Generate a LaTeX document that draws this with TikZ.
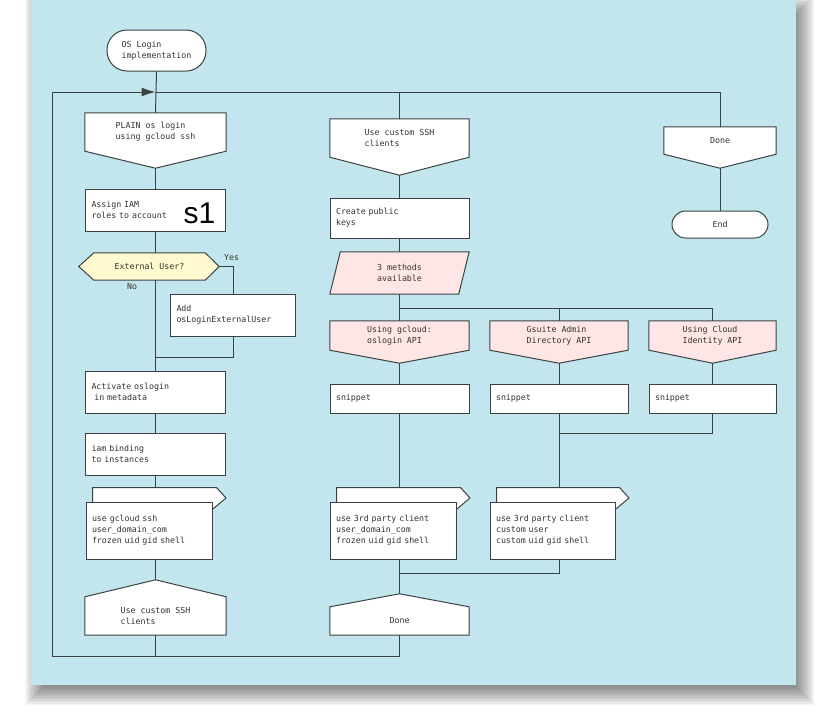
\documentclass[tikz,border=0pt]{standalone}
\usepackage{fontspec}
\newfontfamily\flowfont{DejaVu Sans Mono}
\newfontfamily\sonefont{Liberation Sans}
\usetikzlibrary{arrows.meta, calc}
\definecolor{panelblue}{HTML}{C3E6EE}
\definecolor{flowline}{HTML}{3A4242}
\definecolor{flowtext}{HTML}{35332E}
\definecolor{headpink}{HTML}{FFE6E6}
\definecolor{questionyellow}{HTML}{FFF9CF}
\pgfdeclarelayer{panel}
\pgfdeclarelayer{shapes}
\pgfsetlayers{panel,shapes,main}

\begin{document}
\begin{tikzpicture}[
        x=1pt, y=-1pt,
        flowfont/.style={font=\flowfont\fontsize{8.3}{10.9}\selectfont, text=flowtext},
        link/.style={draw=flowline, line width=1pt},
        outline/.style={draw=flowline, line width=1pt, fill=white},
        actionbox/.style={outline, flowfont, inner xsep=6pt, inner ysep=0pt, align=left},
        terminal/.style={outline, flowfont, inner sep=0pt, align=left},
        headbody/.style={flowfont, inner sep=0pt, align=left},
        looparrow/.style={link, -{Latex[length=14pt, width=9pt]}}
    ]
        \useasboundingbox (0,0) rectangle (827,724);
        \begin{pgfonlayer}{panel}
            \foreach \blur in {-6,-4.5,...,12}
                \fill[black, opacity=0.045] ({37-(\blur)},{8-(\blur)}) rectangle ({802+\blur},{693+\blur});
            \fill[panelblue] (31,0) rectangle (796,685);
        \end{pgfonlayer}

        % left column
        \node[terminal, minimum width=99pt, minimum height=41pt, rounded corners=20pt] (start) at (156.5,50.5) {OS Login\\implementation};
        \node[headbody, minimum width=141pt, minimum height=38pt] (plain) at (155.5,132) {PLAIN os login\\using gcloud ssh};
        \node[actionbox, minimum height=42pt, text width=128pt] (assign) at (155.5,210) {Assign IAM\\roles to account};
        \node[font=\sonefont\fontsize{30}{30}\selectfont, anchor=base, inner sep=0pt] (sone) at (199.5,223) {s1};
        \node[headbody, minimum width=111pt, minimum height=27pt] (external) at (149.5,266.5) {External User?};
        \node[flowfont] (yes) at (231.5,258) {Yes};
        \node[flowfont] (no) at (132,287) {No};
        \node[actionbox, minimum height=42pt, text width=113pt] (addext) at (233,315) {Add\\osLoginExternalUser};
        \node[actionbox, minimum height=42pt, text width=128pt] (activate) at (155.5,392) {Activate oslogin\\\ in metadata};
        \node[actionbox, minimum height=42pt, text width=128pt] (binding) at (155.5,454) {iam binding\\to instances};
        \node[actionbox, minimum height=57pt, text width=114pt] (gcloudssh) at (149,530.5) {use gcloud ssh\\user\_domain\_com\\frozen uid gid shell};
        \node[headbody, minimum width=141pt, minimum height=38pt] (leftcustom) at (155.5,616) {Use custom SSH\\clients};

        % middle columns
        \node[headbody, minimum width=139pt, minimum height=38pt] (rightcustom) at (399.5,138) {Use custom SSH\\clients};
        \node[actionbox, minimum height=40pt, text width=127pt] (keys) at (399.5,218) {Create public\\keys};
        \node[headbody, minimum width=118pt, minimum height=42pt] (methods) at (399.5,273) {3 methods\\available};
        \node[headbody, minimum width=139pt, minimum height=29pt] (gcloudapi) at (399.5,335.5) {Using gcloud:\\oslogin API};
        \node[headbody, minimum width=138pt, minimum height=29pt] (gsuiteapi) at (559,335.5) {Gsuite Admin\\Directory API};
        \node[headbody, minimum width=127pt, minimum height=29pt] (cloudapi) at (712.5,335.5) {Using Cloud\\Identity API};
        \node[actionbox, minimum height=29pt, text width=127pt] (gcloudsnip) at (399.5,398.5) {snippet};
        \node[actionbox, minimum height=29pt, text width=126pt] (gsuitesnip) at (559,398.5) {snippet};
        \node[actionbox, minimum height=29pt, text width=115pt] (cloudsnip) at (712.5,398.5) {snippet};
        \node[actionbox, minimum height=57pt, text width=114pt] (thirddomain) at (393,530.5) {use 3rd party client\\user\_domain\_com\\frozen uid gid shell};
        \node[actionbox, minimum height=57pt, text width=113pt] (thirdcustom) at (552.5,530.5) {use 3rd party client\\custom user\\custom uid gid shell};
        \node[headbody, minimum width=139pt, minimum height=28pt] (finish) at (399.5,621) {Done};

        % right column
        \node[headbody, minimum width=112pt, minimum height=27pt] (done) at (720,140.5) {Done};
        \node[terminal, minimum width=96pt, minimum height=27pt, rounded corners=13.5pt] (stop) at (720,224.5) {End};

        \coordinate (loopentry) at (155.5,92);
        \coordinate (loopcorner) at (52,656);
        \coordinate (extjoin) at (155.5,357);
        \coordinate (split) at (399.5,308);
        \coordinate (gsuitejoin) at (559,433);
        \coordinate (clientjoin) at (399.5,573);

        \begin{pgfonlayer}{shapes}
            \foreach \head/\tip/\shade in {plain/17/white, rightcustom/18/white, gcloudapi/13/headpink, gsuiteapi/13/headpink, cloudapi/13/headpink, done/14/white} {
                \coordinate (\head-tip) at ($(\head.south)+(0,\tip)$);
                \draw[outline, fill=\shade] (\head.north west) -- (\head.north east) -- (\head.south east) -- (\head-tip) -- (\head.south west) -- cycle;
            }
            \foreach \head/\tip in {leftcustom/17, finish/13} {
                \coordinate (\head-tip) at ($(\head.north)+(0,-\tip)$);
                \draw[outline] (\head.south west) -- (\head.north west) -- (\head-tip) -- (\head.north east) -- (\head.south east) -- cycle;
            }
            \foreach \out in {gcloudssh, thirddomain, thirdcustom} {
                \coordinate (\out-top) at ($(\out.north west)+(7,-14)$);
                \draw[outline] (\out-top) -- ($(\out.north east)+(4,-14)$) -- ($(\out.north east)+(13.5,-3.5)$) -- ($(\out.north east)+(1,7)$) -- ($(\out.north west)+(7,7)$) -- cycle;
            }
            \coordinate (external-yes) at ($(external.east)+(14,0)$);
            \draw[outline, fill=questionyellow] ($(external.west)+(-15,0)$) -- (external.north west) -- (external.north east) -- (external-yes) -- (external.south east) -- (external.south west) -- cycle;
            \draw[outline, fill=headpink] (methods.north west) -- ($(methods.north east)+(10.5,0)$) -- (methods.south east) -- ($(methods.south west)+(-10.5,0)$) -- cycle;
        \end{pgfonlayer}

        \draw[link] (start.south) -- (plain.north);
        \draw[link] (plain-tip) -- (assign.north);
        \draw[link] (assign.south) -- (assign.south |- external.north);
        \draw[link] (external-yes) -| (addext.north);
        \draw[link] (addext.south) |- (extjoin);
        \draw[link] (assign.south |- external.south) -- (activate.north);
        \draw[link] (activate.south) -- (binding.north);
        \draw[link] (binding.south) -- (binding.south |- gcloudssh-top);
        \draw[link] (leftcustom.north |- gcloudssh.south) -- (leftcustom-tip);
        \draw[link] (leftcustom.south) -- (leftcustom.south |- loopcorner);
        \draw[link] (finish.south) |- (loopcorner);
        \draw[looparrow] (loopcorner) |- (loopentry);
        \draw[link] (loopentry) -| (done.north);
        \draw[link] (rightcustom.north |- loopentry) -- (rightcustom.north);
        \draw[link] (rightcustom-tip) -- (keys.north);
        \draw[link] (keys.south) -- (methods.north);
        \draw[link] (methods.south) -- (gcloudapi.north);
        \draw[link] (split) -| (gsuiteapi.north);
        \draw[link] (split) -| (cloudapi.north);
        \foreach \api/\snip in {gcloudapi/gcloudsnip, gsuiteapi/gsuitesnip, cloudapi/cloudsnip}
            \draw[link] (\api-tip) -- (\snip.north);
        \draw[link] (cloudsnip.south) |- (gsuitejoin);
        \draw[link] (gsuitesnip.south) -- (gsuitesnip.south |- thirdcustom-top);
        \draw[link] (gcloudsnip.south) -- (gcloudsnip.south |- thirddomain-top);
        \draw[link] (gsuitesnip.south |- thirdcustom.south) |- (clientjoin);
        \draw[link] (gcloudsnip.south |- thirddomain.south) -- (finish-tip);
        \draw[link] (done-tip) -- (stop.north);
    \end{tikzpicture}
\end{document}
